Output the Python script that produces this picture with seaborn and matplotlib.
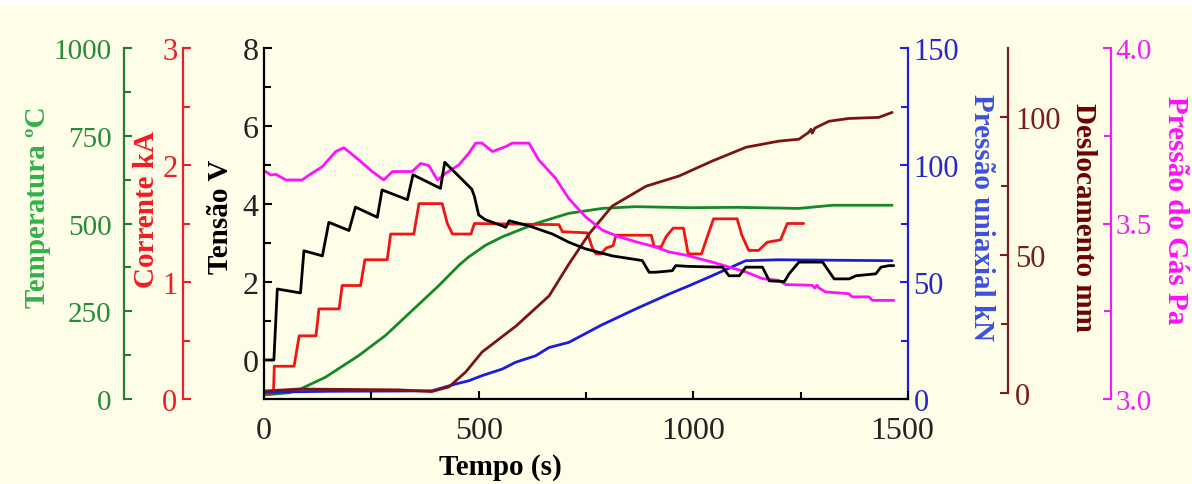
import matplotlib
matplotlib.use("Agg")
import matplotlib.pyplot as plt
import seaborn as sns
from matplotlib.ticker import FixedLocator, FormatStrFormatter
from matplotlib.patches import Rectangle
from matplotlib.transforms import ScaledTranslation

# ---------------- data ----------------
t_tensao = [4, 23, 31, 85, 93, 136, 151, 198, 213, 264, 275, 334, 347, 411, 421, 484, 490, 500,
            515, 555, 563, 571, 617, 672, 710, 749, 811, 881, 897, 912, 951, 959, 990, 1068,
            1083, 1107, 1122, 1161, 1177, 1212, 1223, 1246, 1301, 1328, 1363, 1379, 1425,
            1437, 1456, 1467]
tensao = [0.0, 0.0, 1.82, 1.72, 2.80, 2.67, 3.53, 3.32, 3.92, 3.66, 4.36, 4.11, 4.75, 4.40, 5.07,
          4.38, 4.20, 3.72, 3.60, 3.44, 3.40, 3.57, 3.44, 3.23, 3.02, 2.85, 2.67, 2.55, 2.25,
          2.25, 2.29, 2.42, 2.40, 2.38, 2.16, 2.16, 2.38, 2.38, 2.03, 2.01, 2.21, 2.51, 2.51,
          2.08, 2.08, 2.16, 2.21, 2.38, 2.42, 2.42]

t_corrente = [5, 22, 24, 70, 82, 121, 128, 175, 182, 225, 235, 287, 295, 349, 361, 415, 427,
              439, 482, 490, 687, 695, 753, 765, 773, 785, 797, 813, 820, 902, 909, 925, 937,
              953, 977, 988, 1019, 1031, 1047, 1102, 1113, 1129, 1152, 1172, 1203, 1219, 1257]
corrente = [0.05, 0.05, 0.28, 0.28, 0.54, 0.54, 0.77, 0.77, 0.97, 0.97, 1.19, 1.19, 1.41, 1.41,
            1.67, 1.67, 1.50, 1.41, 1.41, 1.50, 1.49, 1.43, 1.42, 1.29, 1.24, 1.24, 1.29, 1.31,
            1.40, 1.40, 1.30, 1.30, 1.39, 1.46, 1.46, 1.24, 1.24, 1.37, 1.54, 1.54, 1.40, 1.27,
            1.27, 1.34, 1.36, 1.50, 1.50]

t_temp = [5, 60, 86, 143, 221, 283, 345, 408, 454, 477, 516, 555, 633, 710, 788, 866, 990,
          1100, 1246, 1324, 1463]
temperatura = [12, 18, 29, 62, 124, 181, 252, 324, 381, 405, 438, 462, 500, 529, 543, 548, 545,
               546, 543, 552, 552]

t_pressao = [4, 150, 300, 391, 446, 477, 508, 555, 586, 633, 664, 710, 785, 866, 944, 990,
             1044, 1122, 1199, 1463]
pressao = [2.9, 3.3, 3.4, 3.5, 6.4, 7.8, 10.0, 12.8, 15.7, 18.5, 22.0, 24.2, 31.5, 38.5, 44.9,
           48.4, 52.7, 59.1, 59.5, 59.1]

t_desloc = [2, 82, 314, 391, 431, 470, 508, 587, 664, 710, 757, 811, 890, 967, 1044, 1123, 1199,
            1246, 1269, 1274, 1277, 1283, 1316, 1362, 1432, 1463]
desloc = [0.9, 1.6, 1.3, 0.7, 2.4, 7.8, 15.0, 24.4, 35.3, 46.8, 57.7, 67.8, 75.0, 78.7, 84.1,
          89.1, 91.3, 92.0, 94.5, 95.6, 94.2, 96.0, 98.5, 99.5, 99.9, 101.7]

t_gas = [4, 16, 28, 51, 89, 105, 136, 167, 186, 221, 252, 279, 299, 345, 365, 384, 404, 423,
         454, 477, 493, 508, 532, 563, 578, 617, 640, 679, 710, 749, 788, 827, 866, 912, 943,
         982, 1044, 1083, 1122, 1161, 1199, 1215, 1277, 1283, 1288, 1293, 1308, 1362, 1370,
         1409, 1417, 1467]
gas = [3.648, 3.638, 3.640, 3.624, 3.624, 3.638, 3.662, 3.705, 3.716, 3.681, 3.648, 3.624,
       3.648, 3.648, 3.671, 3.665, 3.624, 3.643, 3.667, 3.700, 3.729, 3.729, 3.705, 3.719,
       3.729, 3.729, 3.681, 3.629, 3.571, 3.519, 3.481, 3.462, 3.448, 3.433, 3.419, 3.410,
       3.390, 3.376, 3.362, 3.343, 3.338, 3.326, 3.324, 3.316, 3.324, 3.316, 3.305, 3.300,
       3.291, 3.291, 3.281, 3.281]

# ---------------- style ----------------
sns.set_style("ticks")
plt.rcParams['font.family'] = ['Liberation Serif', 'DejaVu Serif']

BG = "#fdfde8"
W, H = 1192, 485
fig = plt.figure(figsize=(W / 100, H / 100), dpi=100, facecolor="white")
fig.patches.append(Rectangle((0, 0), 1, 1 - 6 / H, transform=fig.transFigure,
                             facecolor=BG, edgecolor="none", zorder=-10))

ax = fig.add_axes([264 / W, (H - 400) / H, 644 / W, 351 / H])
ax.set_facecolor("none")

LAB_FS = 21


def style_axis(a, side, pos, color, lab_color, major, minor, ylim, fs, pad,
               bounds=None, fmt=None):
    for s in ["top", "bottom", "left", "right"]:
        a.spines[s].set_visible(False)
    a.spines[side].set_visible(True)
    a.spines[side].set_color(color)
    a.spines[side].set_linewidth(1.6)
    if pos is not None:
        a.spines[side].set_position(("axes", pos))
    a.yaxis.set_ticks_position(side)
    a.set_ylim(*ylim)
    if bounds is not None:
        a.spines[side].set_bounds(*bounds)
    a.yaxis.set_major_locator(FixedLocator(major))
    a.yaxis.set_minor_locator(FixedLocator(minor))
    if fmt:
        a.yaxis.set_major_formatter(FormatStrFormatter(fmt))
    a.tick_params(axis="y", which="major", direction="in", length=6, width=1.5,
                  color=color, labelcolor=lab_color, labelsize=fs, pad=pad)
    a.tick_params(axis="y", which="minor", direction="in", length=5, width=1.5, color=color)
    a.set_ylabel("")
    a.set_xlabel("")


LW = 2.0

# Temperature (green, far left)
ax_T = ax.twinx()
sns.lineplot(x=t_temp, y=temperatura, ax=ax_T, color="#16882a", lw=LW, estimator=None, sort=False)
style_axis(ax_T, "left", (124 - 264) / 644, "#1f7f2f", "#2a8a3a",
           [0, 250, 500, 750, 1000], [125, 375, 625, 875], (0, 1000), 21, 9)

# Current (red)
ax_I = ax.twinx()
sns.lineplot(x=t_corrente, y=corrente, ax=ax_I, color="#f01414", lw=LW, estimator=None, sort=False)
style_axis(ax_I, "left", (183 - 264) / 644, "#ee1c24", "#ee1c24",
           [0, 1, 2, 3], [0.5, 1.5, 2.5], (0, 3), 22, 4)

# Uniaxial pressure (blue)
ax_P = ax.twinx()
sns.lineplot(x=t_pressao, y=pressao, ax=ax_P, color="#1c1ce0", lw=LW, estimator=None, sort=False)
style_axis(ax_P, "right", None, "#2020dd", "#2828c8",
           [0, 50, 100, 150], [25, 75, 125], (0, 150), 22, 4)

# Displacement (dark red)
ax_D = ax.twinx()
sns.lineplot(x=t_desloc, y=desloc, ax=ax_D, color="#7a1414", lw=LW, estimator=None, sort=False)
style_axis(ax_D, "right", (1008 - 264) / 644, "#7a1c1c", "#7a1c1c",
           [0, 50, 100], [25, 75], (-2.0, 125.0), 22, 5, bounds=(0, 125))

# Gas pressure (magenta)
ax_G = ax.twinx()
sns.lineplot(x=t_gas, y=gas, ax=ax_G, color="#ff10ff", lw=LW, estimator=None, sort=False)
style_axis(ax_G, "right", (1111 - 264) / 644, "#ee22ee", "#ee22ee",
           [3.0, 3.5, 4.0], [3.25, 3.75], (3.0, 4.0), 21, 3, fmt="%.1f")

# Voltage (black, main axes) - on top
sns.lineplot(x=t_tensao, y=tensao, ax=ax, color="black", lw=LW, estimator=None, sort=False)
ax.set_zorder(10)
for s in ["top", "right"]:
    ax.spines[s].set_visible(False)
for s in ["left", "bottom"]:
    ax.spines[s].set_color("black")
    ax.spines[s].set_linewidth(1.6)
ax.set_xlim(0, 1500)
ax.set_ylim(-1, 8)
ax.xaxis.set_major_locator(FixedLocator([0, 500, 1000, 1500]))
ax.xaxis.set_minor_locator(FixedLocator([250, 750, 1250]))
ax.yaxis.set_major_locator(FixedLocator([0, 2, 4, 6, 8]))
ax.yaxis.set_minor_locator(FixedLocator([1, 3, 5, 7]))
ax.tick_params(which="major", direction="in", length=6, width=1.5, color="black",
               labelcolor="#222222", labelsize=23, pad=4)
ax.tick_params(axis="x", which="major", pad=12)
ax.tick_params(which="minor", direction="in", length=5, width=1.5, color="black")
ax.set_xlabel("")
ax.set_ylabel("")

# axis titles
def lab(x_px, y_px, text, color, rot):
    fig.text(x_px / W, 1 - y_px / H, text, color=color, rotation=rot, ha="center",
             va="center", fontsize=LAB_FS, fontweight="bold")

lab(38, 207, "Temperatura ºC", "#34b04a", 90)
lab(146, 210, "Corrente kA", "#f01c24", 90)
lab(220, 217, "Tensão V", "black", 90)
lab(982, 218, "Pressão uniaxial kN", "#3c50e0", 270)
lab(1083, 217, "Deslocamento mm", "#6e0000", 270)
lab(1176, 210, "Pressão do Gás Pa", "#ff10ff", 270)
lab(500, 468, "Tempo (s)", "black", 0)

# nudge the last x tick label slightly left, as in the reference
fig.canvas.draw()
last = ax.xaxis.get_major_ticks()[-1].label1
last.set_transform(last.get_transform() + ScaledTranslation(-6 / 100, 0, fig.dpi_scale_trans))

fig.savefig("out.png", dpi=100, facecolor="white")
